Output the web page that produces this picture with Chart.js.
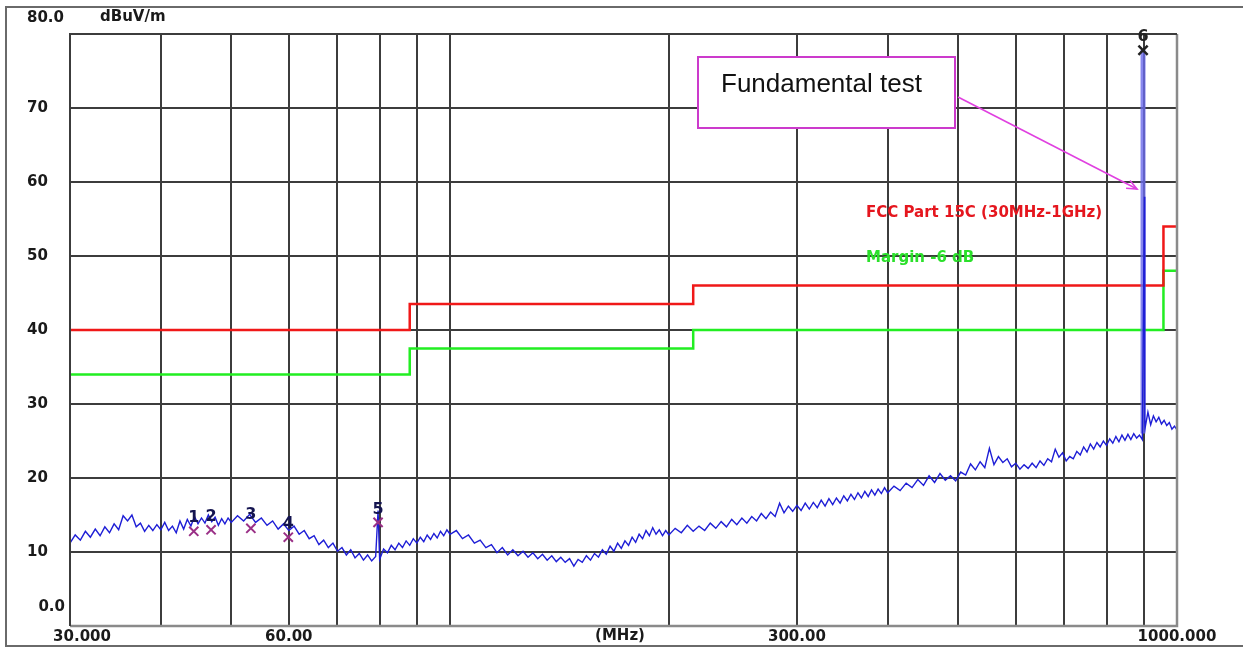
<!DOCTYPE html>
<html><head><meta charset="utf-8">
<script src="https://cdn.jsdelivr.net/npm/chart.js@4.4.0/dist/chart.umd.min.js"></script>
<style>html,body{margin:0;padding:0;background:#fff;overflow:hidden}#wrap{position:relative;width:1243px;height:649px}</style>
</head><body><div id="wrap"><canvas id="c" width="1243" height="649"></canvas></div>
<script>
// ---- data ----
const xGridTicks = [30,40,50,60,70,80,90,100,200,300,400,500,600,700,800,900,1000];
const xTickLabels = [[30,'30.000'],[60,'60.00'],[300,'300.00'],[1000,'1000.000']];
const yTickValues = [80,70,60,50,40,30,20,10,0];
const yTickLabels = ['80.0','70','60','50','40','30','20','10','0.0'];

const limitFreq = [30,88,88,216,216,958,958,1000];
const limitLevel = [40,40,43.5,43.5,46,46,54,54];
const marginLevel = [34,34,37.5,37.5,40,40,48,48];

const traceFreq = [
 30,30.5,31,31.5,32,32.5,33,33.5,34,34.5,
 35,35.5,36,36.5,37,37.5,38,38.5,39,39.5,
 40,40.5,41,41.5,42,42.5,43,43.5,44,44.5,
 45,45.5,46,46.5,47,47.5,48,48.5,49,49.5,
 50,51,52,53,54,55,56,57,58,59,
 60,61,62,63,64,65,66,67,68,69,
 70,71,72,73,74,75,76,77,78,79,79.6,
 80,81,82,83,84,85,86,87,88,89,
 90,91,92,93,94,95,96,97,98,99,
 100,102,104,106,108,110,112,114,116,118,
 120,122,124,126,128,130,132,134,136,138,
 140,142,144,146,148,150,152,154,156,158,
 160,162,164,166,168,170,172,174,176,178,
 180,182,184,186,188,190,192,194,196,198,
 200,204,208,212,216,220,224,228,232,236,
 240,244,248,252,256,260,264,268,272,276,
 280,284,288,292,296,300,304,308,312,316,
 320,324,328,332,336,340,344,348,352,356,
 360,364,368,372,376,380,384,388,392,396,
 400,408,416,424,432,440,448,456,464,472,
 480,488,496,504,512,520,528,536,544,552,
 560,568,576,584,592,600,608,616,624,632,
 640,648,656,664,672,680,688,696,704,712,
 720,728,736,744,752,760,768,776,784,792,
 800,808,816,824,832,840,848,856,864,872,
 880,888,896,902,903,904,912,920,928,936,
 944,952,960,968,976,984,992,1000
];
const traceLevel = [
 11.2,12.3,11.6,12.8,12.0,13.1,12.2,13.4,12.6,13.8,
 13.0,14.9,14.2,15.0,13.4,13.9,12.8,13.6,12.9,13.7,
 13.0,14.0,12.9,13.5,12.6,14.2,13.1,14.4,13.5,14.8,
 13.8,14.6,13.9,15.0,14.1,14.7,13.6,14.5,13.8,14.6,
 14.0,14.9,14.2,15.1,14.0,14.6,13.6,14.2,13.1,13.8,
 12.9,13.5,12.4,12.9,11.8,12.2,11.0,11.6,10.6,11.2,
 10.1,10.6,9.6,10.3,9.2,9.8,8.9,9.6,8.8,9.4,15.6,
 9.0,10.4,9.9,10.9,10.3,11.2,10.6,11.5,10.9,11.8,
 11.2,12.0,11.4,12.3,11.7,12.5,11.9,12.8,12.2,13.0,
 12.4,12.9,11.8,12.3,11.2,11.6,10.6,11.0,9.9,10.6,
 9.6,10.3,9.5,10.1,9.3,9.9,9.1,9.7,8.9,9.5,
 8.7,9.3,8.6,9.1,8.1,9.0,8.6,9.5,8.9,9.8,
 9.3,10.3,9.7,10.8,10.1,11.2,10.5,11.5,10.9,12.0,
 11.3,12.4,11.8,12.9,12.2,13.3,12.4,13.0,12.2,12.9,
 12.3,13.2,12.6,13.6,12.8,13.5,12.9,13.9,13.2,14.1,
 13.4,14.4,13.7,14.6,13.9,14.8,14.2,15.2,14.5,15.4,
 14.8,16.6,15.3,16.2,15.5,16.3,15.6,16.6,15.8,16.7,
 16.0,17.0,16.2,17.2,16.4,17.3,16.6,17.6,16.9,17.8,
 17.1,18.0,17.3,18.2,17.5,18.4,17.7,18.5,17.9,18.7,
 18.0,18.9,18.3,19.3,18.7,19.8,19.0,20.3,19.4,20.6,
 19.7,20.3,19.6,20.8,20.4,21.9,21.1,22.2,21.4,24.0,
 21.8,22.9,22.1,22.6,21.5,22.0,21.2,21.8,21.3,22.0,
 21.4,22.3,21.7,22.6,22.2,23.9,22.8,23.4,22.3,22.9,
 22.6,23.6,23.1,24.2,23.5,24.6,23.9,24.8,24.2,25.0,
 24.4,25.3,24.7,25.6,24.9,25.8,25.1,25.9,25.2,26.0,
 25.4,25.8,25.2,58.0,27.5,26.8,28.9,27.2,28.4,27.6,
 28.2,27.3,27.8,27.1,27.5,26.6,27.0,26.5
];

const spikeFreq = [898,898];
const spikeLevel = [26,77.8];

const markerNo = ['1','2','3','4','5'];
const markerFreq = [44.4,46.9,53.2,59.9,79.6];
const markerLevel = [12.8,13.0,13.2,12.0,14.0];
const peakNo = ['6'];
const peakFreq = [898];
const peakLevel = [77.8];

const pts = (xs, ys) => xs.map((x, i) => ({x, y: ys[i]}));

const FONT = '"DejaVu Sans", sans-serif';

const overlay = {
  id: 'overlay',
  afterDraw(chart) {
    const ctx = chart.ctx, a = chart.chartArea;
    const xs = chart.scales.x, ys = chart.scales.y;
    ctx.save();
    // outer frame
    ctx.strokeStyle = '#6a6a6a'; ctx.lineWidth = 2;
    ctx.beginPath();
    ctx.moveTo(1243, 7); ctx.lineTo(6, 7); ctx.lineTo(6, 646); ctx.lineTo(1243, 646);
    ctx.stroke();
    // plot border: bottom & right lighter
    ctx.strokeStyle = '#8a8a8a'; ctx.lineWidth = 2.5;
    ctx.beginPath();
    ctx.moveTo(a.left, a.bottom); ctx.lineTo(a.right, a.bottom); ctx.lineTo(a.right, a.top);
    ctx.stroke();
    ctx.strokeStyle = '#3c3c3c'; ctx.lineWidth = 2;
    ctx.beginPath();
    ctx.moveTo(a.left, a.bottom); ctx.lineTo(a.left, a.top); ctx.lineTo(a.right, a.top);
    ctx.stroke();

    // y tick labels
    ctx.fillStyle = '#1a1a1a';
    ctx.font = 'bold 15px ' + FONT;
    ctx.textBaseline = 'middle';
    yTickValues.forEach((v, i) => {
      const y = ys.getPixelForValue(v);
      const t = yTickLabels[i];
      if (v === 80) { ctx.textAlign = 'left'; ctx.fillText(t, 27, y - 16); }
      else if (v === 0) { ctx.textAlign = 'right'; ctx.fillText(t, 65, y - 19); }
      else { ctx.textAlign = 'left'; ctx.fillText(t, 27, y); }
    });
    // x tick labels
    ctx.textAlign = 'center';
    xTickLabels.forEach(([v, t]) => {
      let x = xs.getPixelForValue(v);
      if (v === 30) x += 12;
      ctx.fillText(t, x, 637);
    });
    ctx.fillText('(MHz)', 620, 636);
    // unit
    ctx.textAlign = 'left';
    ctx.fillText('dBuV/m', 100, 17);

    // limit labels
    ctx.fillStyle = '#e5161e';
    ctx.fillText('FCC Part 15C (30MHz-1GHz)', 866, 213);
    ctx.fillStyle = '#2be02b';
    ctx.fillText('Margin -6 dB', 866, 258);

    // marker numbers
    ctx.font = 'bold 16px ' + FONT;
    ctx.fillStyle = '#141450';
    ctx.textAlign = 'center';
    markerNo.forEach((n, i) => {
      ctx.fillText(n, xs.getPixelForValue(markerFreq[i]), ys.getPixelForValue(markerLevel[i]) - 13);
    });
    ctx.fillStyle = '#222';
    peakNo.forEach((n, i) => {
      ctx.fillText(n, xs.getPixelForValue(peakFreq[i]), ys.getPixelForValue(peakLevel[i]) - 13);
    });

    // annotation box
    ctx.fillStyle = '#fff';
    ctx.fillRect(698, 57, 257, 71);
    ctx.strokeStyle = '#cc3acc'; ctx.lineWidth = 2;
    ctx.strokeRect(698, 57, 257, 71);
    ctx.fillStyle = '#111';
    ctx.font = '26px "Liberation Sans", Arial, sans-serif';
    ctx.textAlign = 'left';
    ctx.fillText('Fundamental test', 721, 85);
    // arrow
    const ex = xs.getPixelForValue(peakFreq[0]) - 6, ey = 189;
    const sx = 958, sy = 97;
    ctx.strokeStyle = '#e040e0'; ctx.lineWidth = 1.6;
    ctx.beginPath(); ctx.moveTo(sx, sy); ctx.lineTo(ex, ey); ctx.stroke();
    const ang = Math.atan2(ey - sy, ex - sx), L = 11;
    ctx.beginPath();
    ctx.moveTo(ex - L * Math.cos(ang - 0.4), ey - L * Math.sin(ang - 0.4));
    ctx.lineTo(ex, ey);
    ctx.lineTo(ex - L * Math.cos(ang + 0.4), ey - L * Math.sin(ang + 0.4));
    ctx.stroke();
    ctx.restore();
  }
};

new Chart(document.getElementById('c'), {
  type: 'line',
  data: {
    datasets: [
      { label: 'markers', data: pts(markerFreq, markerLevel), showLine: false,
        pointStyle: 'crossRot', pointRadius: 6.5, borderColor: '#9a2f86', borderWidth: 2, order: 0 },
      { label: 'peak', data: pts(peakFreq, peakLevel), showLine: false,
        pointStyle: 'crossRot', pointRadius: 6.5, borderColor: '#222', borderWidth: 2.5, order: 0 },
      { label: 'trace', data: pts(traceFreq, traceLevel), borderColor: '#1e1ed6', borderWidth: 1.4,
        pointRadius: 0, tension: 0, order: 1 },
      { label: 'spike', data: pts(spikeFreq, spikeLevel), borderColor: 'rgba(105,105,235,0.8)', borderWidth: 5,
        pointRadius: 0, order: 2 },
      { label: 'FCC Part 15C (30MHz-1GHz)', data: pts(limitFreq, limitLevel), borderColor: '#f01818',
        borderWidth: 2.5, pointRadius: 0, order: 3 },
      { label: 'Margin -6 dB', data: pts(limitFreq, marginLevel), borderColor: '#22ee22',
        borderWidth: 2.5, pointRadius: 0, order: 3 }
    ]
  },
  options: {
    responsive: false, animation: false, devicePixelRatio: 1,
    layout: { padding: { left: 70, right: 66, top: 34, bottom: 23 } },
    plugins: { legend: { display: false }, tooltip: { enabled: false } },
    scales: {
      x: { type: 'logarithmic', min: 30, max: 1000,
        afterBuildTicks: s => { s.ticks = xGridTicks.map(v => ({ value: v })); },
        ticks: { display: false },
        grid: { color: '#3c3c3c', lineWidth: 2, drawTicks: false },
        border: { display: false } },
      y: { type: 'linear', min: 0, max: 80,
        afterBuildTicks: s => { s.ticks = yTickValues.map(v => ({ value: v })); },
        ticks: { display: false },
        grid: { color: '#3c3c3c', lineWidth: 2, drawTicks: false },
        border: { display: false } }
    }
  },
  plugins: [overlay]
});
</script></body></html>
